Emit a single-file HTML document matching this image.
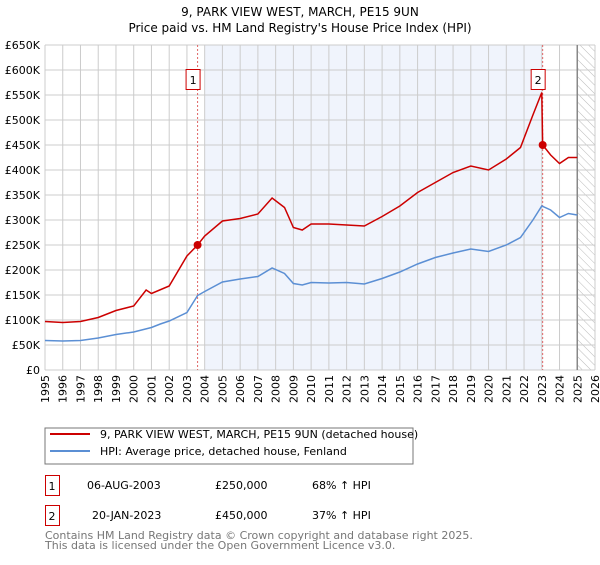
<!DOCTYPE html>
<html><head><meta charset="utf-8"><style>
body{margin:0;background:#fff;font-family:"Liberation Sans","DejaVu Sans",sans-serif;}
svg text{font-family:"DejaVu Sans","Liberation Sans",sans-serif;}
</style></head><body>
<svg id="c" width="600" height="560" xmlns="http://www.w3.org/2000/svg">
<defs><pattern id="hatch" width="6" height="6" patternUnits="userSpaceOnUse" patternTransform="rotate(-45)"><line x1="0" y1="0" x2="0" y2="6" stroke="#bbb" stroke-width="1"/></pattern></defs>
<text x="300" y="16" text-anchor="middle" font-size="12">9, PARK VIEW WEST, MARCH, PE15 9UN</text>
<text x="300" y="32" text-anchor="middle" font-size="12">Price paid vs. HM Land Registry's House Price Index (HPI)</text>
<g id="plot"></g>
<rect x="45" y="428" width="368" height="36" fill="#fff" stroke="#777"/>
<line x1="50" y1="434" x2="90" y2="434" stroke="#cc0000" stroke-width="2"/>
<text x="100" y="438" font-size="11">9, PARK VIEW WEST, MARCH, PE15 9UN (detached house)</text>
<line x1="50" y1="451" x2="90" y2="451" stroke="#5b8fd4" stroke-width="2"/>
<text x="100" y="455" font-size="11">HPI: Average price, detached house, Fenland</text>
<g font-size="11">
<rect x="45.5" y="475.5" width="14" height="20" fill="none" stroke="#cc0000"/><text x="52" y="490" text-anchor="middle">1</text>
<text x="87" y="489">06-AUG-2003</text><text x="215" y="489">£250,000</text><text x="312" y="489">68% ↑ HPI</text></g>
<g font-size="11">
<rect x="45.5" y="505.5" width="14" height="20" fill="none" stroke="#cc0000"/><text x="52" y="520" text-anchor="middle">2</text>
<text x="92" y="519">20-JAN-2023</text><text x="215" y="519">£450,000</text><text x="312" y="519">37% ↑ HPI</text></g>
<text x="45" y="539" font-size="11" fill="#777">Contains HM Land Registry data © Crown copyright and database right 2025.</text>
<text x="45" y="549" font-size="11" fill="#777">This data is licensed under the Open Government Licence v3.0.</text>
</svg>
<script>
const hpiYears=[1995,1996,1997,1998,1999,2000,2001,2001.5,2002,2003,2003.6,2004,2005,2006,2007,2007.8,2008.5,2009,2009.5,2010,2011,2012,2013,2014,2015,2016,2017,2018,2019,2020,2021,2021.8,2022.5,2023,2023.5,2024,2024.5,2025];
const hpiValues=[59,58,59,64,71,76,85,92,98,115,149,157,176,182,187,204,193,173,170,175,174,175,172,183,196,212,225,234,242,237,250,265,300,328,320,305,313,310];
const propYears=[1995,1996,1997,1998,1999,2000,2000.7,2001,2002,2003,2003.6,2004,2005,2006,2007,2007.8,2008.5,2009,2009.5,2010,2011,2012,2013,2014,2015,2016,2017,2018,2019,2020,2021,2021.8,2022.5,2023,2023.05,2023.5,2024,2024.5,2025];
const propValues=[97,95,97,105,119,128,160,153,168,228,250,268,298,303,312,344,325,285,280,292,292,290,288,307,328,355,375,395,408,400,422,445,510,555,450,430,413,425,425];
const saleYears=[2003.6,2023.05];
const saleValues=[250,450];
const saleLabels=["1","2"];
const yTicks=[0,50,100,150,200,250,300,350,400,450,500,550,600,650];
const yTickLabels=["£0","£50K","£100K","£150K","£200K","£250K","£300K","£350K","£400K","£450K","£500K","£550K","£600K","£650K"];
const xTicks=[1995,1996,1997,1998,1999,2000,2001,2002,2003,2004,2005,2006,2007,2008,2009,2010,2011,2012,2013,2014,2015,2016,2017,2018,2019,2020,2021,2022,2023,2024,2025,2026];
const X0=45,X1=595,Y0=370,Y1=45;
const xs=y=>X0+(y-1995)/31*(X1-X0);
const ys=v=>Y0-v/650*(Y0-Y1);
const NS="http://www.w3.org/2000/svg";
const g=document.getElementById('plot');
function mk(t,a){const e=document.createElementNS(NS,t);for(const k in a)e.setAttribute(k,a[k]);g.appendChild(e);return e;}
let e=mk('rect',{x:xs(2004),y:Y1,width:xs(2023.05)-xs(2004),height:Y0-Y1,fill:'#f0f4fc'});


e=mk('rect',{x:xs(2025),y:Y1,width:X1-xs(2025),height:Y0-Y1,fill:'url(#hatch)'});


yTicks.forEach((v,i)=>{
 e=mk('line',{x1:X0,x2:X1,y1:ys(v),y2:ys(v),stroke:'#ccc'});
 
 
 e=mk('text',{x:40,y:ys(v)+4,'text-anchor':'end','font-size':11});
 e.textContent=yTickLabels[i];
 
 
});
xTicks.forEach(v=>{
 e=mk('line',{x1:xs(v),x2:xs(v),y1:Y1,y2:Y0,stroke:'#ccc'});
 
 
 e=mk('text',{x:0,y:0,'font-size':11,'text-anchor':'end',transform:`translate(${xs(v)+4},${Y0+5}) rotate(-90)`});
 e.textContent=v;
 
 
});
e=mk('line',{x1:xs(2025),x2:xs(2025),y1:Y1,y2:Y0,stroke:'#888','stroke-width':1.5});


saleYears.forEach((y,i)=>{
 e=mk('line',{x1:xs(y),x2:xs(y),y1:Y1,y2:Y0,stroke:'#e06666','stroke-dasharray':'2,2'});
 
 
});
e=mk('polyline',{points:hpiYears.map((y,i)=>xs(y)+','+ys(hpiValues[i])).join(' '),fill:'none',stroke:'#5b8fd4','stroke-width':1.5});


e=mk('polyline',{points:propYears.map((y,i)=>xs(y)+','+ys(propValues[i])).join(' '),fill:'none',stroke:'#cc0000','stroke-width':1.5});


saleYears.forEach((y,i)=>{
 e=mk('circle',{cx:xs(y),cy:ys(saleValues[i]),r:4,fill:'#cc0000'});
 
 
 e=mk('rect',{x:xs(y)-11.5,y:69.5,width:14,height:20,fill:'#fff',stroke:'#cc0000'});
 
 
 e=mk('text',{x:xs(y)-4.5,y:84,'text-anchor':'middle','font-size':11});
 e.textContent=saleLabels[i];
 
 
});
</script>
</body></html>
